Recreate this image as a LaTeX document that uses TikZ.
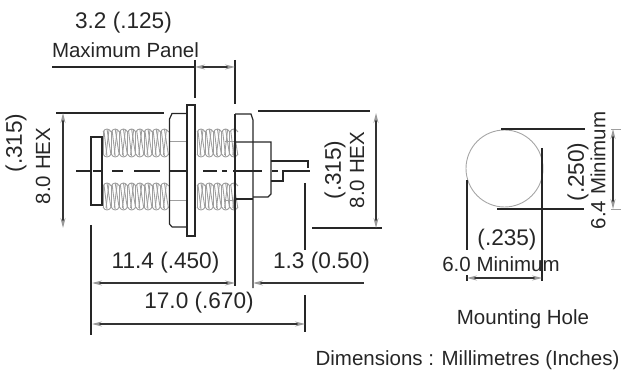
\documentclass[tikz,border=0pt]{standalone}
\usepackage{fontspec}
\setmainfont{Liberation Sans}
\usetikzlibrary{arrows.meta}
\tikzset{
 ln/.style={line width=1.2pt,black!85},
 thr/.style={line width=0.9pt,black!38},
 dim/.style={line width=1.1pt,black!80,{Stealth[length=10pt,width=5pt,black!40]}-{Stealth[length=10pt,width=5pt,black!40]}},
 dimr/.style={line width=1.1pt,black!80,{Stealth[length=10pt,width=5pt,black!40]}-},
 txt/.style={font=\fontsize{20.5}{22}\selectfont,text=black!85,inner sep=0pt},
 num/.style={font=\fontsize{22.6}{24}\selectfont,text=black!85,inner sep=0pt},
}
\begin{document}
\begin{tikzpicture}[x=1pt,y=-1pt]
\useasboundingbox (0,0) rectangle (626,371);
% threads
\foreach \xa/\n in {103/8,197/5}{
 \foreach \ya/\yb in {129/157,183/210}{
  \foreach \i in {1,...,\n}{
   \pgfmathsetmacro{\xs}{\xa+(\i-1)*8.2}
   \draw[thr] (\xs,\ya+3) .. controls (\xs+2,\ya-1) and (\xs+6,\ya-1) .. (\xs+8.2,\ya+3);
   \draw[thr] (\xs,\yb-3) .. controls (\xs+2,\yb+1) and (\xs+6,\yb+1) .. (\xs+8.2,\yb-3);
   \draw[thr] (\xs+1,\ya+2) -- (\xs+4,\yb-1);
   \draw[thr] (\xs+6,\ya+1) -- (\xs+3,\yb-2);
   \draw[thr] (\xs+4,\ya) -- (\xs+8,\yb-2);
   \draw[thr] (\xs,\ya+3) -- (\xs,\yb-3);
  }
 }
}
\draw[thr] (169,141) -- (187,141) (169,200) -- (187,200) (225,141) -- (235,141) (225,200) -- (235,200);
% body
\draw[ln] (91,137) rectangle (102,205);
\draw[ln] (56,113) -- (164,113);
\draw[ln] (172,227) -- (187,227) (172,227) -- (169.5,224) -- (169.5,119) -- (172,113.5) -- (186,113.5);
\draw[ln] (187,236) -- (187,105) -- (195,105) -- (195,236) -- cycle;
\draw[ln] (235,60) -- (235,104);
\draw[ln] (195,60) -- (195,98);
\draw[ln] (52,67) -- (195,67);
\draw[ln] (235,114) -- (235,286);
\draw[ln] (235,114) -- (251,114) -- (253,120) -- (253,288);
\draw[ln] (235,142) -- (271,142) -- (271,194) -- (268,197) -- (253,197);
\draw[ln] (235,199) -- (253,199);
\draw[ln] (271,161) -- (308,161) -- (308,168);
\draw[ln] (271,181) -- (283,181) -- (283,171) -- (310,171);
\foreach \a/\b in {76/92,93/103,112/123,134/160,169/187,203/217,222/227,233/262,272/278}{\draw[ln] (\a,171) -- (\b,171);}
% extension lines
\draw[ln] (91,225) -- (91,335);
\draw[ln] (305,183) -- (305,250) (305,295) -- (305,332);
\draw[ln] (258,111) -- (370,111);
\draw[ln] (312,228) -- (382,228);
% dimensions
\draw[dim] (195,67) -- (235,67);
\draw[dim] (63,113) -- (63,228);
\draw[dim] (376,113) -- (376,228);
\draw[dim] (92,283) -- (235,283);
\draw[dimr] (253,283) -- (364,283);
\draw[dim] (92,324) -- (305,324);
% hole
\draw[line width=0.9pt,black!35] (504.5,168.5) circle (38.5);
\draw[ln] (501,129) -- (585,129) (497,209) -- (584,209);
\draw[ln] (542,148) -- (542,281) (467,180) -- (467,250);
\draw[ln] (467,275) -- (467,281);
\draw[dim] (467,278) -- (542,278);
\draw[dim] (613,129) -- (613,209);
\draw[thr] (611,129) -- (621,129) (611,209) -- (621,209);
% text
\node[num] (t1) at (123.5,23) {3.2 (.125)};
\node[txt] (t2) at (125.5,50) {Maximum Panel};
\node[num,rotate=90] (t3) at (16,143) {(.315)};
\node[txt,rotate=90] (t4) at (43,166) {8.0 HEX};
\node[num,rotate=90] (t5) at (335,170) {(.315)};
\node[txt,rotate=90] (t6) at (357,170) {8.0 HEX};
\node[num] (t7) at (165.5,263) {11.4 (.450)};
\node[num] (t8) at (321.5,263) {1.3 (0.50)};
\node[num] (t9) at (199,303) {17.0 (.670)};
\node[num] (t10) at (507,240) {(.235)};
\node[txt] (t11) at (501,264) {6.0 Minimum};
\node[num,rotate=90] (t12) at (578,172) {(.250)};
\node[txt,rotate=90] (t13) at (598,170.5) {6.4 Minimum};
\node[txt] (t14) at (523,319) {Mounting Hole};
\node[txt] (t15) at (467.5,360) {Dimensions : Millimetres (Inches)};
\end{tikzpicture}
\end{document}
